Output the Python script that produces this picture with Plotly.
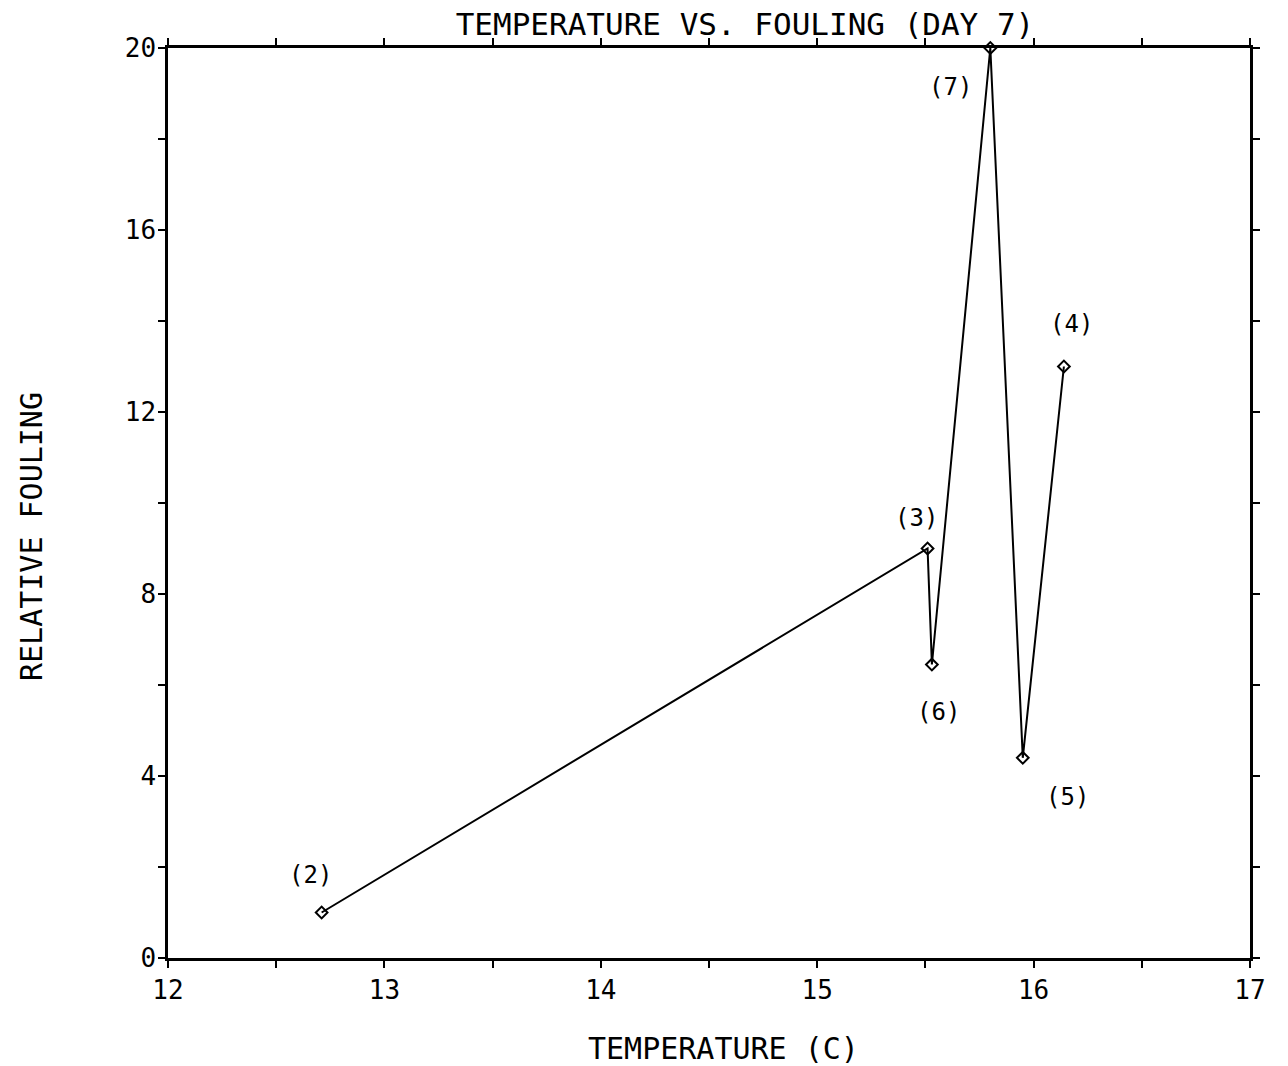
import plotly.graph_objects as go

# Day 7 sampling stations: water temperature vs relative fouling
stations = ["(2)", "(3)", "(6)", "(7)", "(5)", "(4)"]
temperature_c = [12.71, 15.51, 15.53, 15.80, 15.95, 16.14]
relative_fouling = [1.0, 9.0, 6.45, 20.0, 4.4, 13.0]

# label offsets (pixels) for each station tag
label_dx = [-11, -11, 7, -40, 45, 8]
label_dy = [38, 31, -47, -39, -39, 43]

x_ticks = [12 + 0.5 * i for i in range(11)]
x_text = [str(int(v)) if v == int(v) else "" for v in x_ticks]
y_ticks = list(range(0, 21, 2))
y_text = [str(v) if v % 4 == 0 else "" for v in y_ticks]

FONT = "DejaVu Sans Mono"
W, H = 1288, 1066
L, R, T, B = 168, 38, 48, 108

fig = go.Figure()
fig.add_trace(go.Scatter(
    x=temperature_c,
    y=relative_fouling,
    mode="lines+markers",
    line=dict(color="black", width=2),
    marker=dict(symbol="diamond-open", size=9, color="black",
                line=dict(width=2, color="black")),
    showlegend=False,
    cliponaxis=False,
))

for name, xv, yv, dx, dy in zip(stations, temperature_c, relative_fouling, label_dx, label_dy):
    fig.add_annotation(x=xv, y=yv, xref="x", yref="y", text=name,
                       showarrow=False, xshift=dx, yshift=dy,
                       font=dict(family=FONT, size=24, color="black"))

# axis titles placed relative to the plotting area
pw, ph = W - L - R, H - T - B
fig.add_annotation(text="TEMPERATURE (C)", xref="paper", yref="paper",
                   x=(723 - L) / pw, y=-(1048 - (H - B)) / ph,
                   xanchor="center", yanchor="middle", showarrow=False,
                   font=dict(family=FONT, size=30, color="black"))
fig.add_annotation(text="RELATIVE FOULING", xref="paper", yref="paper",
                   x=-(L - 31) / pw, y=((H - B) - 537) / ph, textangle=-90,
                   xanchor="center", yanchor="middle", showarrow=False,
                   font=dict(family=FONT, size=30, color="black"))

axis_common = dict(
    showline=True, linecolor="black", linewidth=2.5, mirror="ticks",
    ticks="outside", ticklen=7, tickwidth=1.5, tickcolor="black",
    showgrid=False, zeroline=False,
    tickfont=dict(family=FONT, size=26, color="black"),
)

fig.update_layout(
    width=W, height=H,
    paper_bgcolor="white", plot_bgcolor="white",
    margin=dict(l=L, r=R, t=T, b=B),
    title=dict(text="TEMPERATURE VS. FOULING (DAY 7)", x=(745 - L) / pw, xref="paper",
               xanchor="center", y=1 - 24 / H, yanchor="middle",
               font=dict(family=FONT, size=31, color="black")),
    xaxis=dict(range=[12, 17], tickvals=x_ticks, ticktext=x_text, **axis_common),
    yaxis=dict(range=[0, 20], tickvals=y_ticks, ticktext=y_text,
               ticklabelstandoff=-3, **axis_common),
)

fig.write_html("out.html")
